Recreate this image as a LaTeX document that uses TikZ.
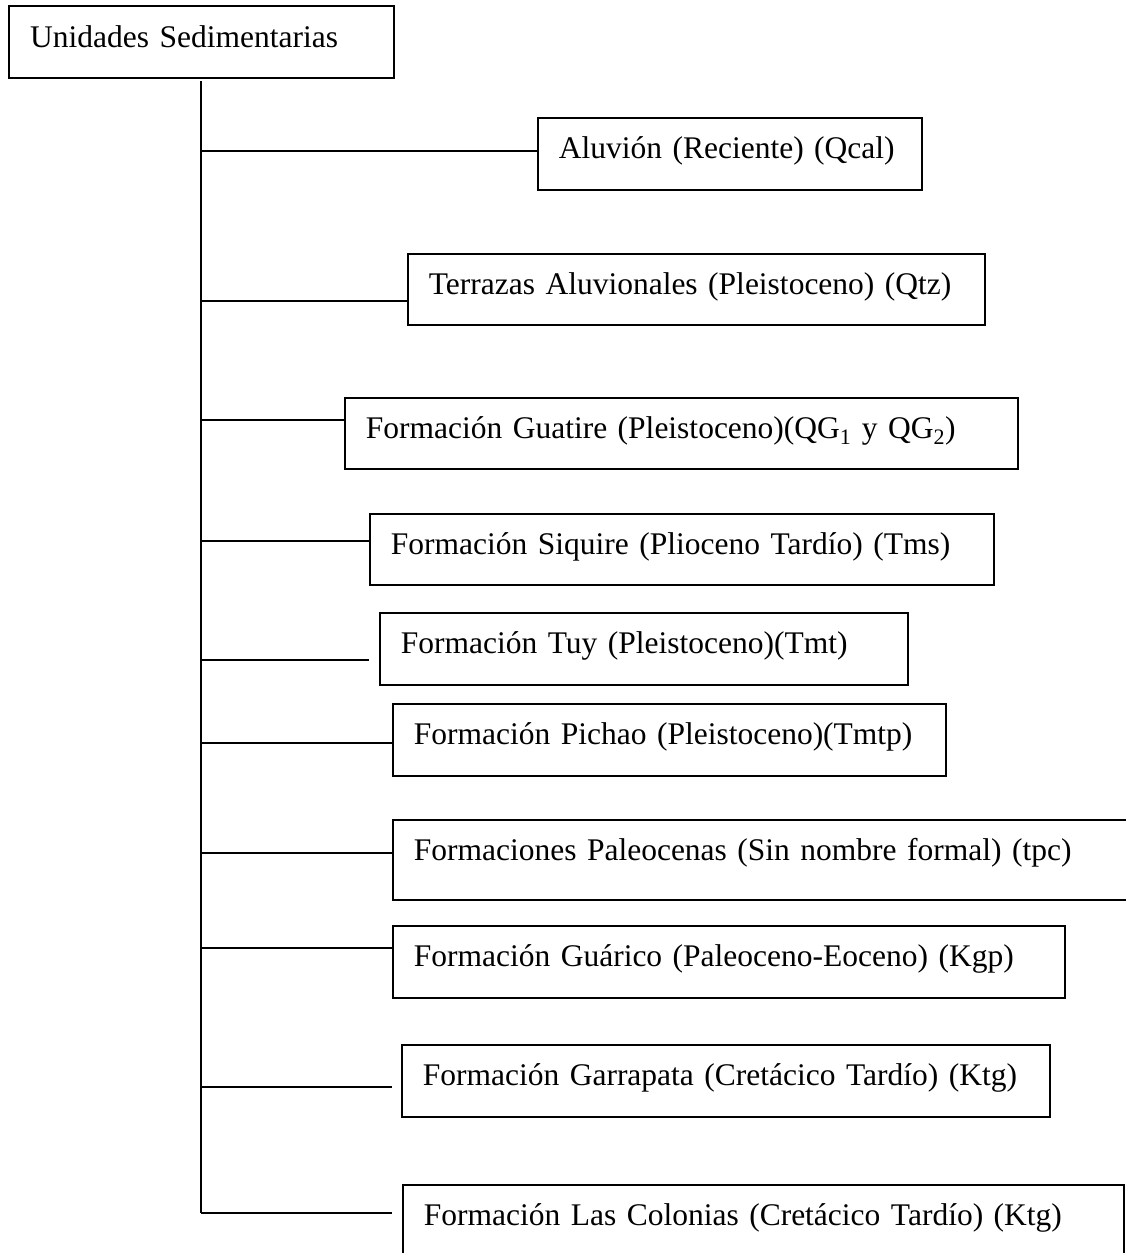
\documentclass[tikz,border=0pt]{standalone}
\usepackage{fontspec}
\setmainfont{Liberation Serif}
\begin{document}
\begin{tikzpicture}[x=1pt,y=-1pt,
  fbox/.style={draw, line width=1.6pt, anchor=north west, inner xsep=21pt, inner ysep=0pt,
    text height=41pt, text depth=31pt, align=left, font=\fontsize{31.5}{38}\selectfont},
  conn/.style={line width=1.5pt}]
\useasboundingbox (0,0) rectangle (1126,1253);
\clip (0,0) rectangle (1126,1253);
% root
\node[fbox, line width=2.4pt, text width=343pt] (root) at (8,5) {Unidades Sedimentarias};
% units
\node[fbox, text width=342pt] (alu) at (537,117) {Aluvión (Reciente) (Qcal)};
\node[fbox, text width=535pt, text depth=30pt] (ter) at (407,253) {Terrazas Aluvionales (Pleistoceno) (Qtz)};
\node[fbox, text width=631pt, text depth=30pt] (gua) at (344,397) {Formación Guatire (Pleistoceno)(QG\textsubscript{1} y QG\textsubscript{2})};
\node[fbox, text width=582pt, text depth=30pt] (siq) at (369,513) {Formación Siquire (Plioceno Tardío) (Tms)};
\node[fbox, text width=486pt] (tuy) at (379,612) {Formación Tuy (Pleistoceno)(Tmt)};
\node[fbox, text width=511pt] (pic) at (392,703) {Formación Pichao (Pleistoceno)(Tmtp)};
\node[fbox, text width=706pt, text depth=39pt] (pal) at (392,819) {Formaciones Paleocenas (Sin nombre formal) (tpc)};
\node[fbox, text width=630pt] (guar) at (392,925) {Formación Guárico (Paleoceno-Eoceno) (Kgp)};
\node[fbox, text width=606pt] (gar) at (401,1044) {Formación Garrapata (Cretácico Tardío) (Ktg)};
\node[fbox, text width=679pt, text depth=45pt] (col) at (402,1184) {Formación Las Colonias (Cretácico Tardío) (Ktg)};
% trunk
\coordinate (ttop) at (201,81);
\coordinate (t1) at (201,151);
\coordinate (t2) at (201,301);
\coordinate (t3) at (201,420);
\coordinate (t4) at (201,541);
\coordinate (t5) at (201,660);
\coordinate (t6) at (201,743);
\coordinate (t7) at (201,853);
\coordinate (t8) at (201,948);
\coordinate (t9) at (201,1087);
\coordinate (t10) at (201,1213);
\coordinate (e5) at (369,660);
\coordinate (e9) at (392,1087);
\coordinate (e10) at (392,1213);
\draw[conn] (ttop) -- (t10);
\draw[conn] (t1) -- (t1 -| alu.west);
\draw[conn] (t2) -- (t2 -| ter.west);
\draw[conn] (t3) -- (t3 -| gua.west);
\draw[conn] (t4) -- (t4 -| siq.west);
\draw[conn] (t5) -- (e5);
\draw[conn] (t6) -- (t6 -| pic.west);
\draw[conn] (t7) -- (t7 -| pal.west);
\draw[conn] (t8) -- (t8 -| guar.west);
\draw[conn] (t9) -- (e9);
\draw[conn] (t10) -- (e10);
\end{tikzpicture}
\end{document}
